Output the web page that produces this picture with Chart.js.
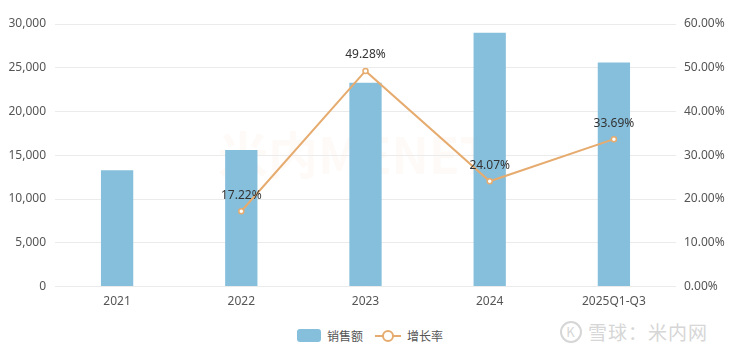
<!DOCTYPE html>
<html><head><meta charset="utf-8">
<script src="https://cdn.jsdelivr.net/npm/chart.js@4"></script>
<style>
html,body{margin:0;padding:0;background:#fff;}
#wrap{position:relative;width:740px;height:359px;font-family:"Noto Sans","Noto Sans CJK SC",sans-serif;}
#c{position:absolute;left:0;top:0;}
#legend{position:absolute;top:327px;left:0;width:740px;text-align:center;font-size:12px;color:#555;font-family:"Noto Sans CJK SC",sans-serif;}
#legend span.item{display:inline-flex;align-items:center;margin:0 6px;}
.box{display:inline-block;width:24px;height:13px;background:#86bfdc;border-radius:3px;margin-right:6px;}
.ln{position:relative;display:inline-block;width:26px;height:13px;margin-right:6px;}
.ln:before{content:"";position:absolute;left:0;right:0;top:6px;height:2px;background:#e6ab6e;}
.ln:after{content:"";position:absolute;left:7px;top:1px;width:8px;height:8px;border:2px solid #e6ab6e;border-radius:50%;background:#fff;}
#wm{position:absolute;left:560px;top:318px;font-size:19px;color:#d6d6d6;font-family:"Noto Sans CJK SC",sans-serif;letter-spacing:1px;display:flex;align-items:center;}
#wm .ic{display:inline-block;width:18px;height:18px;border:2px solid #d6d6d6;border-radius:50%;margin-right:6px;font-size:13px;line-height:18px;text-align:center;}
#wm2{position:absolute;left:218px;top:116px;font-size:50px;font-weight:bold;color:rgba(240,200,180,0.09);font-family:"Noto Sans CJK SC",sans-serif;}
</style></head>
<body><div id="wrap">
<div id="wm2">米内MENET</div>
<canvas id="c" width="740" height="309"></canvas>
<div id="legend"><span class="item"><span class="box"></span>销售额</span><span class="item"><span class="ln"></span>增长率</span></div>
<div id="wm"><span class="ic">K</span>雪球：米内网</div>
</div>
<script>
const categories = ["2021","2022","2023","2024","2025Q1-Q3"];
const sales = [13300, 15600, 23300, 29000, 25600];
const growth = [null, 17.22, 49.28, 24.07, 33.69];
const leftTicks = [0,5000,10000,15000,20000,25000,30000];
const rightTicks = [0,10,20,30,40,50,60];

const labelPlugin = {
  id:'pctLabels',
  afterDatasetsDraw(chart){
    const ctx = chart.ctx;
    const meta = chart.getDatasetMeta(1);
    ctx.save();
    ctx.font = '12px "Noto Sans", sans-serif';
    ctx.fillStyle = '#333';
    ctx.textAlign = 'center';
    ctx.textBaseline = 'middle';
    meta.data.forEach((pt,i)=>{
      if(growth[i]==null) return;
      ctx.fillText(growth[i].toFixed(2)+'%', pt.x, pt.y-16);
    });
    ctx.restore();
  }
};

new Chart(document.getElementById('c'), {
  data:{
    labels: categories,
    datasets:[
      {type:'bar', label:'销售额', data:sales, backgroundColor:'#86bfdc', yAxisID:'y', barPercentage:0.26, categoryPercentage:1, order:2},
      {type:'line', label:'增长率', data:growth, borderColor:'#e6ab6e', borderWidth:2, pointRadius:2.5, pointBackgroundColor:'#fff', pointBorderColor:'#e6ab6e', pointBorderWidth:1.5, yAxisID:'y1', order:1, spanGaps:false, tension:0}
    ]
  },
  options:{
    responsive:false, animation:false,
    layout:{padding:{top:24,left:0,right:0,bottom:0}},
    plugins:{legend:{display:false}, tooltip:{enabled:false}},
    scales:{
      x:{grid:{display:false}, border:{display:false}, ticks:{color:'#555', font:{size:12,family:'"Noto Sans", sans-serif'}, padding:0}},
      y:{position:'left', min:0, max:30000, afterBuildTicks(a){a.ticks=leftTicks.map(v=>({value:v}));},
         afterFit(a){a.width=55;},
         grid:{color:'#ebebeb', drawTicks:false}, border:{display:false},
         ticks:{color:'#555', font:{size:12,family:'"Noto Sans", sans-serif'}, padding:9, callback:v=>v.toLocaleString('en-US')}},
      y1:{position:'right', min:0, max:60, afterBuildTicks(a){a.ticks=rightTicks.map(v=>({value:v}));},
         afterFit(a){a.width=64;},
         grid:{display:false, drawTicks:false}, border:{display:false},
         ticks:{color:'#555', font:{size:12,family:'"Noto Sans", sans-serif'}, padding:8, callback:v=>v.toFixed(2)+'%'}}
    }
  },
  plugins:[labelPlugin]
});
</script>
</body></html>
